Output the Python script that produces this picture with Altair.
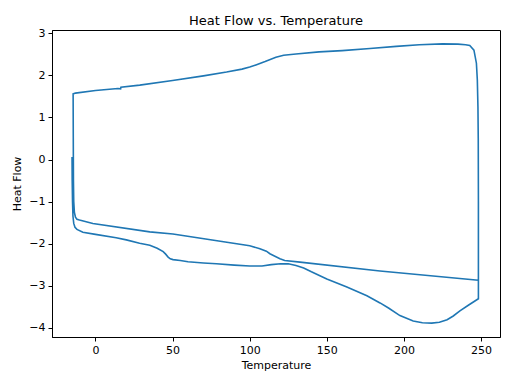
import altair as alt
import pandas as pd

# First heating (starts at the equilibration point)
heat1_temp = [-15.2, -15.1, -14.9, -14.6, -14.1, -13.3, -12.0, -8.2, 0.0, 13.4, 20.0, 28.6,
              35.2, 40.0, 43.9, 45.5, 47.1, 48.5, 50.3, 55.0, 60.0, 70.0, 78.4, 90.0, 100.0,
              108.0, 114.0, 120.0, 125.0, 130.0, 135.0, 140.0, 150.0, 163.0, 176.0, 184.5,
              190.0, 197.4, 206.0, 212.0, 218.0, 223.0, 228.0, 232.0, 236.3, 242.0, 248.3]
heat1_flow = [0.06, -0.5, -1.0, -1.35, -1.52, -1.61, -1.66, -1.73, -1.78, -1.86, -1.91, -1.99,
              -2.04, -2.11, -2.19, -2.25, -2.32, -2.36, -2.38, -2.40, -2.43, -2.46, -2.48, -2.51, -2.53,
              -2.53, -2.50, -2.48, -2.48, -2.52, -2.58, -2.67, -2.84, -3.03, -3.24, -3.41,
              -3.53, -3.71, -3.84, -3.88, -3.89, -3.87, -3.81, -3.72, -3.60, -3.46, -3.31]

# Cooling
cool_temp = [248.3, 248.2, 248.0, 247.6, 247.0, 245.4, 242.7, 240.0, 235.0, 225.0, 210.0,
             195.0, 178.0, 160.0, 145.0, 130.0, 122.0, 117.0, 110.0, 104.0, 100.0, 95.0,
             85.0, 70.0, 50.0, 28.7, 16.5, 16.3, 14.5, 0.0, -13.0, -14.5]
cool_flow = [-1.0, 0.5, 1.25, 1.89, 2.29, 2.60, 2.71, 2.73, 2.745, 2.75, 2.73,
             2.69, 2.64, 2.59, 2.56, 2.51, 2.48, 2.43, 2.33, 2.25, 2.20, 2.15,
             2.08, 1.99, 1.88, 1.77, 1.72, 1.68, 1.69, 1.64, 1.58, 1.56]

# Second heating
heat2_temp = [-14.4, -14.3, -14.1, -13.7, -13.0, -12.0, -10.4, -1.7, 35.2, 50.2, 100.0,
              106.6, 110.8, 113.1, 119.6, 122.7, 132.6, 184.5, 248.3]
heat2_flow = [0.5, -0.5, -1.0, -1.25, -1.37, -1.42, -1.44, -1.52, -1.72, -1.77, -2.05,
              -2.12, -2.18, -2.24, -2.36, -2.40, -2.44, -2.65, -2.87]

temps = heat1_temp + cool_temp + heat2_temp
flows = heat1_flow + cool_flow + heat2_flow
df = pd.DataFrame({"Temperature": temps, "Heat Flow": flows, "i": list(range(len(temps)))})

chart = alt.Chart(df).mark_line(color="#1f77b4", strokeWidth=1.6).encode(
    x=alt.X("Temperature:Q",
            scale=alt.Scale(domain=[-28.2, 262.3], nice=False, zero=False),
            axis=alt.Axis(values=[0, 50, 100, 150, 200, 250], title="Temperature")),
    y=alt.Y("Heat Flow:Q",
            scale=alt.Scale(domain=[-4.22, 3.08], nice=False, zero=False),
            axis=alt.Axis(values=[-4, -3, -2, -1, 0, 1, 2, 3], title="Heat Flow",
                          labelExpr="replace(datum.label, '-', '\u2212')")),
    order="i:Q",
).properties(
    width=448, height=307,
    title=alt.TitleParams("Heat Flow vs. Temperature", font="DejaVu Sans", fontSize=13,
                          fontWeight="normal", color="black", anchor="middle",
                          frame="group", offset=6, baseline="bottom", dy=20),
    autosize=alt.AutoSizeParams(type="none"),
    padding={"left": 44, "top": 22, "right": 4, "bottom": 39},
).configure_view(stroke="black", strokeWidth=1).configure_axis(
    grid=False, domainColor="black", domainWidth=1, tickColor="black", tickSize=4,
    tickWidth=1, labelFont="DejaVu Sans", labelFontSize=11, labelColor="black",
    labelPadding=3, titleFont="DejaVu Sans", titleFontSize=11, titleFontWeight="normal",
    titleColor="black",
).configure_axisX(titlePadding=4).configure_axisY(titlePadding=6)

chart.save("out.html", embed_options={"renderer": "svg", "actions": False})
